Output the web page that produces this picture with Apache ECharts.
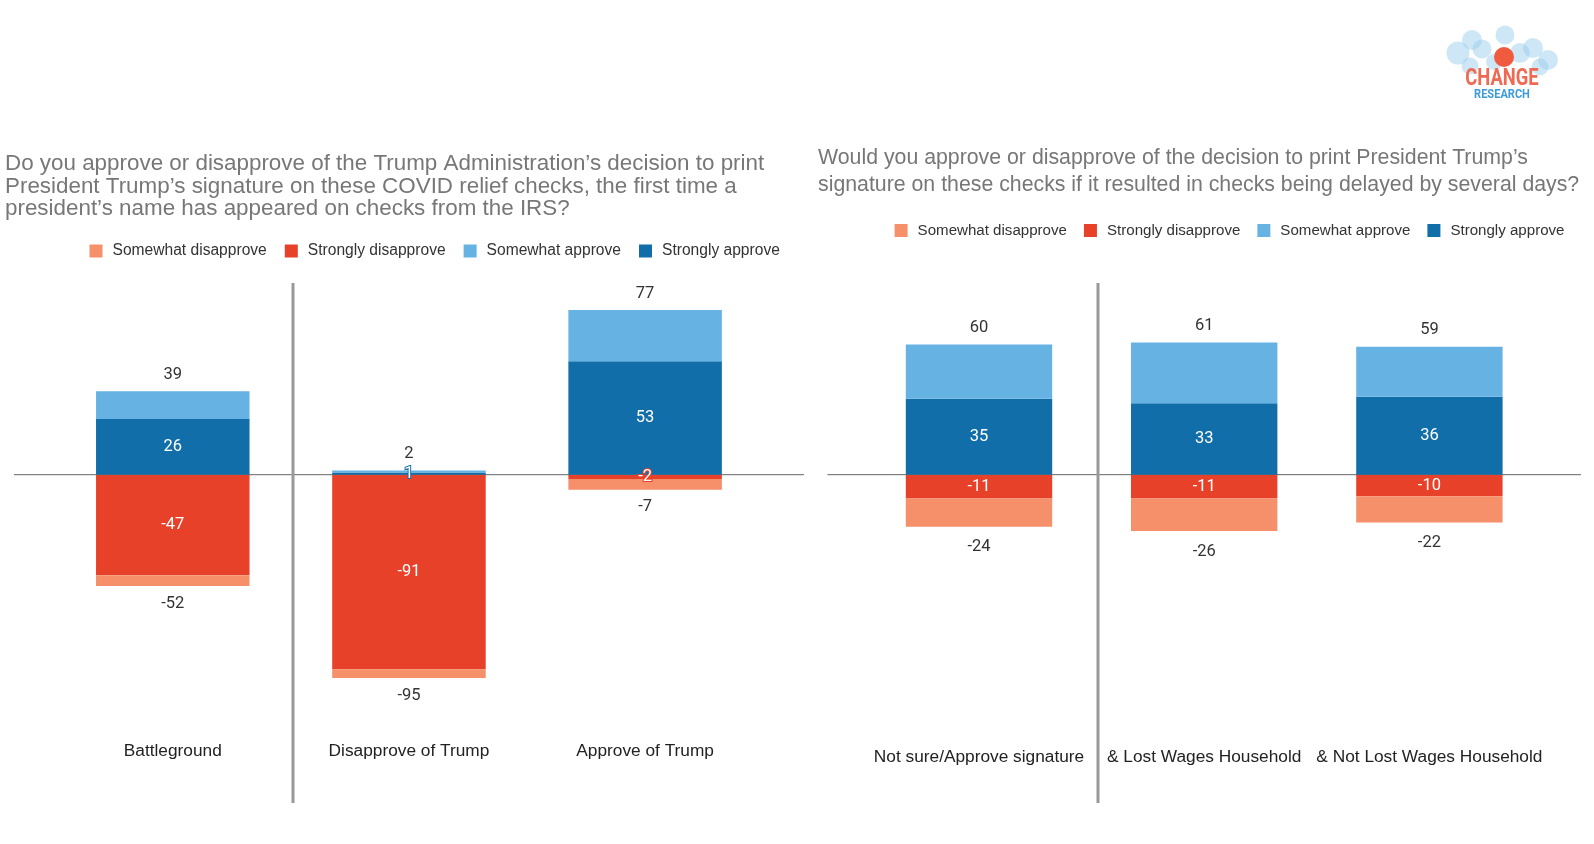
<!DOCTYPE html>
<html>
<head>
<meta charset="utf-8">
<script src="https://cdn.jsdelivr.net/npm/echarts@6/dist/echarts.min.js"></script>
<style>
html, body { margin: 0; padding: 0; background: #fff; }
#main { width: 1594px; height: 844px; }
</style>
</head>
<body>
<div id="main"></div>
<script>
// left panel: approval of the signature
var leftCats = ['Battleground', 'Disapprove of Trump', 'Approve of Trump'];
var leftStrongApprove = [26, 1, 53];
var leftTotalApprove = [39, 2, 77];
var leftStrongDisapprove = [-47, -91, -2];
var leftTotalDisapprove = [-52, -95, -7];

// right panel: if checks were delayed
var rightCats = ['Not sure/Approve signature', '& Lost Wages Household', '& Not Lost Wages Household'];
var rightStrongApprove = [35, 33, 36];
var rightTotalApprove = [60, 61, 59];
var rightStrongDisapprove = [-11, -11, -10];
var rightTotalDisapprove = [-24, -26, -22];

var legendNames = ['Somewhat disapprove', 'Strongly disapprove', 'Somewhat approve', 'Strongly approve'];
var colors = {
	'Somewhat disapprove': '#f5906a',
	'Strongly disapprove': '#e8412a',
	'Somewhat approve': '#66b3e3',
	'Strongly approve': '#116ea9'
};

function diff(total, strong) {
	return total.map(function (t, i) { return t - strong[i]; });
}

function insideLabel(name) {
	return {
		show: true,
		position: 'inside',
		color: '#fff',
		fontFamily: 'Roboto',
		fontSize: 16.5,
		textBorderColor: colors[name],
		textBorderWidth: 2
	};
}

function totalLabel(pos, totals, dist) {
	return {
		show: true,
		position: pos,
		distance: dist,
		color: '#333',
		fontFamily: 'Roboto',
		fontSize: 16.5,
		formatter: function (p) { return totals[p.dataIndex]; }
	};
}

function panelSeries(idx, strongDis, totalDis, strongApp, totalApp, downGap) {
	return [{
		name: 'Strongly disapprove', type: 'bar', stack: 's' + idx,
		xAxisIndex: idx, yAxisIndex: idx, barWidth: '65%',
		itemStyle: { color: colors['Strongly disapprove'] },
		label: insideLabel('Strongly disapprove'),
		data: strongDis
	}, {
		name: 'Strongly approve', type: 'bar', stack: 's' + idx,
		xAxisIndex: idx, yAxisIndex: idx, barWidth: '65%',
		itemStyle: { color: colors['Strongly approve'] },
		label: insideLabel('Strongly approve'),
		data: strongApp
	}, {
		name: 'Somewhat disapprove', type: 'bar', stack: 's' + idx,
		xAxisIndex: idx, yAxisIndex: idx, barWidth: '65%',
		itemStyle: { color: colors['Somewhat disapprove'] },
		label: totalLabel('bottom', totalDis, downGap),
		data: diff(totalDis, strongDis)
	}, {
		name: 'Somewhat approve', type: 'bar', stack: 's' + idx,
		xAxisIndex: idx, yAxisIndex: idx, barWidth: '65%',
		itemStyle: { color: colors['Somewhat approve'] },
		label: totalLabel('top', totalApp, 8),
		data: diff(totalApp, strongApp)
	}];
}

function legendAt(left, top, size, gap) {
	return {
		data: legendNames,
		left: left, top: top,
		padding: 0,
		itemWidth: 13, itemHeight: 13, itemGap: gap,
		icon: 'rect',
		selectedMode: false,
		textStyle: { fontFamily: 'Liberation Sans', fontSize: size, color: '#333', padding: [0, 0, 0, 5] }
	};
}

function catAxis(idx, cats) {
	return {
		type: 'category', gridIndex: idx, data: cats,
		axisLine: { show: false }, axisTick: { show: false },
		axisLabel: { margin: 5, fontFamily: 'Liberation Sans', fontSize: 17.3, color: '#222', interval: 0 }
	};
}

function valAxis(idx, min) {
	return {
		type: 'value', gridIndex: idx, min: min, max: 100,
		show: false, splitLine: { show: false }
	};
}

// logo bubbles
var bubbles = [[1458, 53, 11.5], [1472, 40, 10], [1482, 49, 9.5], [1505, 35, 9.5], [1520, 53, 10],
	[1533, 48, 10], [1548, 60, 10], [1470, 66, 8.5], [1540, 67, 8.5], [1494, 62, 8]];
var logo = bubbles.map(function (b) {
	return { type: 'circle', shape: { cx: b[0], cy: b[1], r: b[2] }, style: { fill: '#93c9ea', opacity: 0.45 } };
});
logo.push({ type: 'circle', shape: { cx: 1504, cy: 57, r: 10 }, style: { fill: '#ee5b3f' } });
logo.push({ type: 'text', x: 1502, y: 79, scaleX: 0.8, style: { text: 'CHANGE', fill: '#ef6a52', font: 'bold 23px Roboto', align: 'center', verticalAlign: 'middle' } });
logo.push({ type: 'text', x: 1502, y: 95, scaleX: 0.85, style: { text: 'RESEARCH', fill: '#3f9bd8', font: 'bold 13px Roboto', align: 'center', verticalAlign: 'middle' } });

var option = {
	animation: false,
	backgroundColor: '#fff',
	title: [{
		text: 'Do you approve or disapprove of the Trump Administration\u2019s decision to print\nPresident Trump\u2019s signature on these COVID relief checks, the first time a\npresident\u2019s name has appeared on checks from the IRS?',
		left: 5, top: 153, padding: 0,
		textStyle: { fontFamily: 'Liberation Sans', fontWeight: 'normal', fontSize: 22.4, lineHeight: 22.4, color: '#777' }
	}, {
		text: 'Would you approve or disapprove of the decision to print President Trump\u2019s\nsignature on these checks if it resulted in checks being delayed by several days?',
		left: 818, top: 144, padding: 0,
		textStyle: { fontFamily: 'Liberation Sans', fontWeight: 'normal', fontSize: 21.3, lineHeight: 27.4, color: '#777' }
	}],
	legend: [legendAt(89.5, 243, 15.6, 18), legendAt(894.6, 223, 15.1, 17)],
	grid: [
		{ left: 54.7, width: 708.5, top: 260.8, height: 477 },
		{ left: 866.4, width: 675.6, top: 257.9, height: 485.6 }
	],
	xAxis: [catAxis(0, leftCats), catAxis(1, rightCats)],
	yAxis: [valAxis(0, -123), valAxis(1, -124)],
	series: panelSeries(0, leftStrongDisapprove, leftTotalDisapprove, leftStrongApprove, leftTotalApprove, 9)
		.concat(panelSeries(1, rightStrongDisapprove, rightTotalDisapprove, rightStrongApprove, rightTotalApprove, 12)),
	graphic: logo
};

var myChart = echarts.init(document.getElementById('main'));
myChart.setOption(option);

// zero lines and panel separators
var y0 = myChart.convertToPixel({ gridIndex: 0 }, [0, 0])[1];
var y1 = myChart.convertToPixel({ gridIndex: 1 }, [0, 0])[1];
myChart.setOption({
	graphic: logo.concat([
		{ type: 'line', shape: { x1: 14, y1: y0, x2: 804, y2: y0 }, style: { stroke: '#666', lineWidth: 1 } },
		{ type: 'line', shape: { x1: 827.5, y1: y1, x2: 1581, y2: y1 }, style: { stroke: '#666', lineWidth: 1 } },
		{ type: 'line', shape: { x1: 293, y1: 283, x2: 293, y2: 803 }, style: { stroke: '#999', lineWidth: 3 } },
		{ type: 'line', shape: { x1: 1098, y1: 283, x2: 1098, y2: 803 }, style: { stroke: '#999', lineWidth: 3 } }
	])
});
</script>
</body>
</html>
